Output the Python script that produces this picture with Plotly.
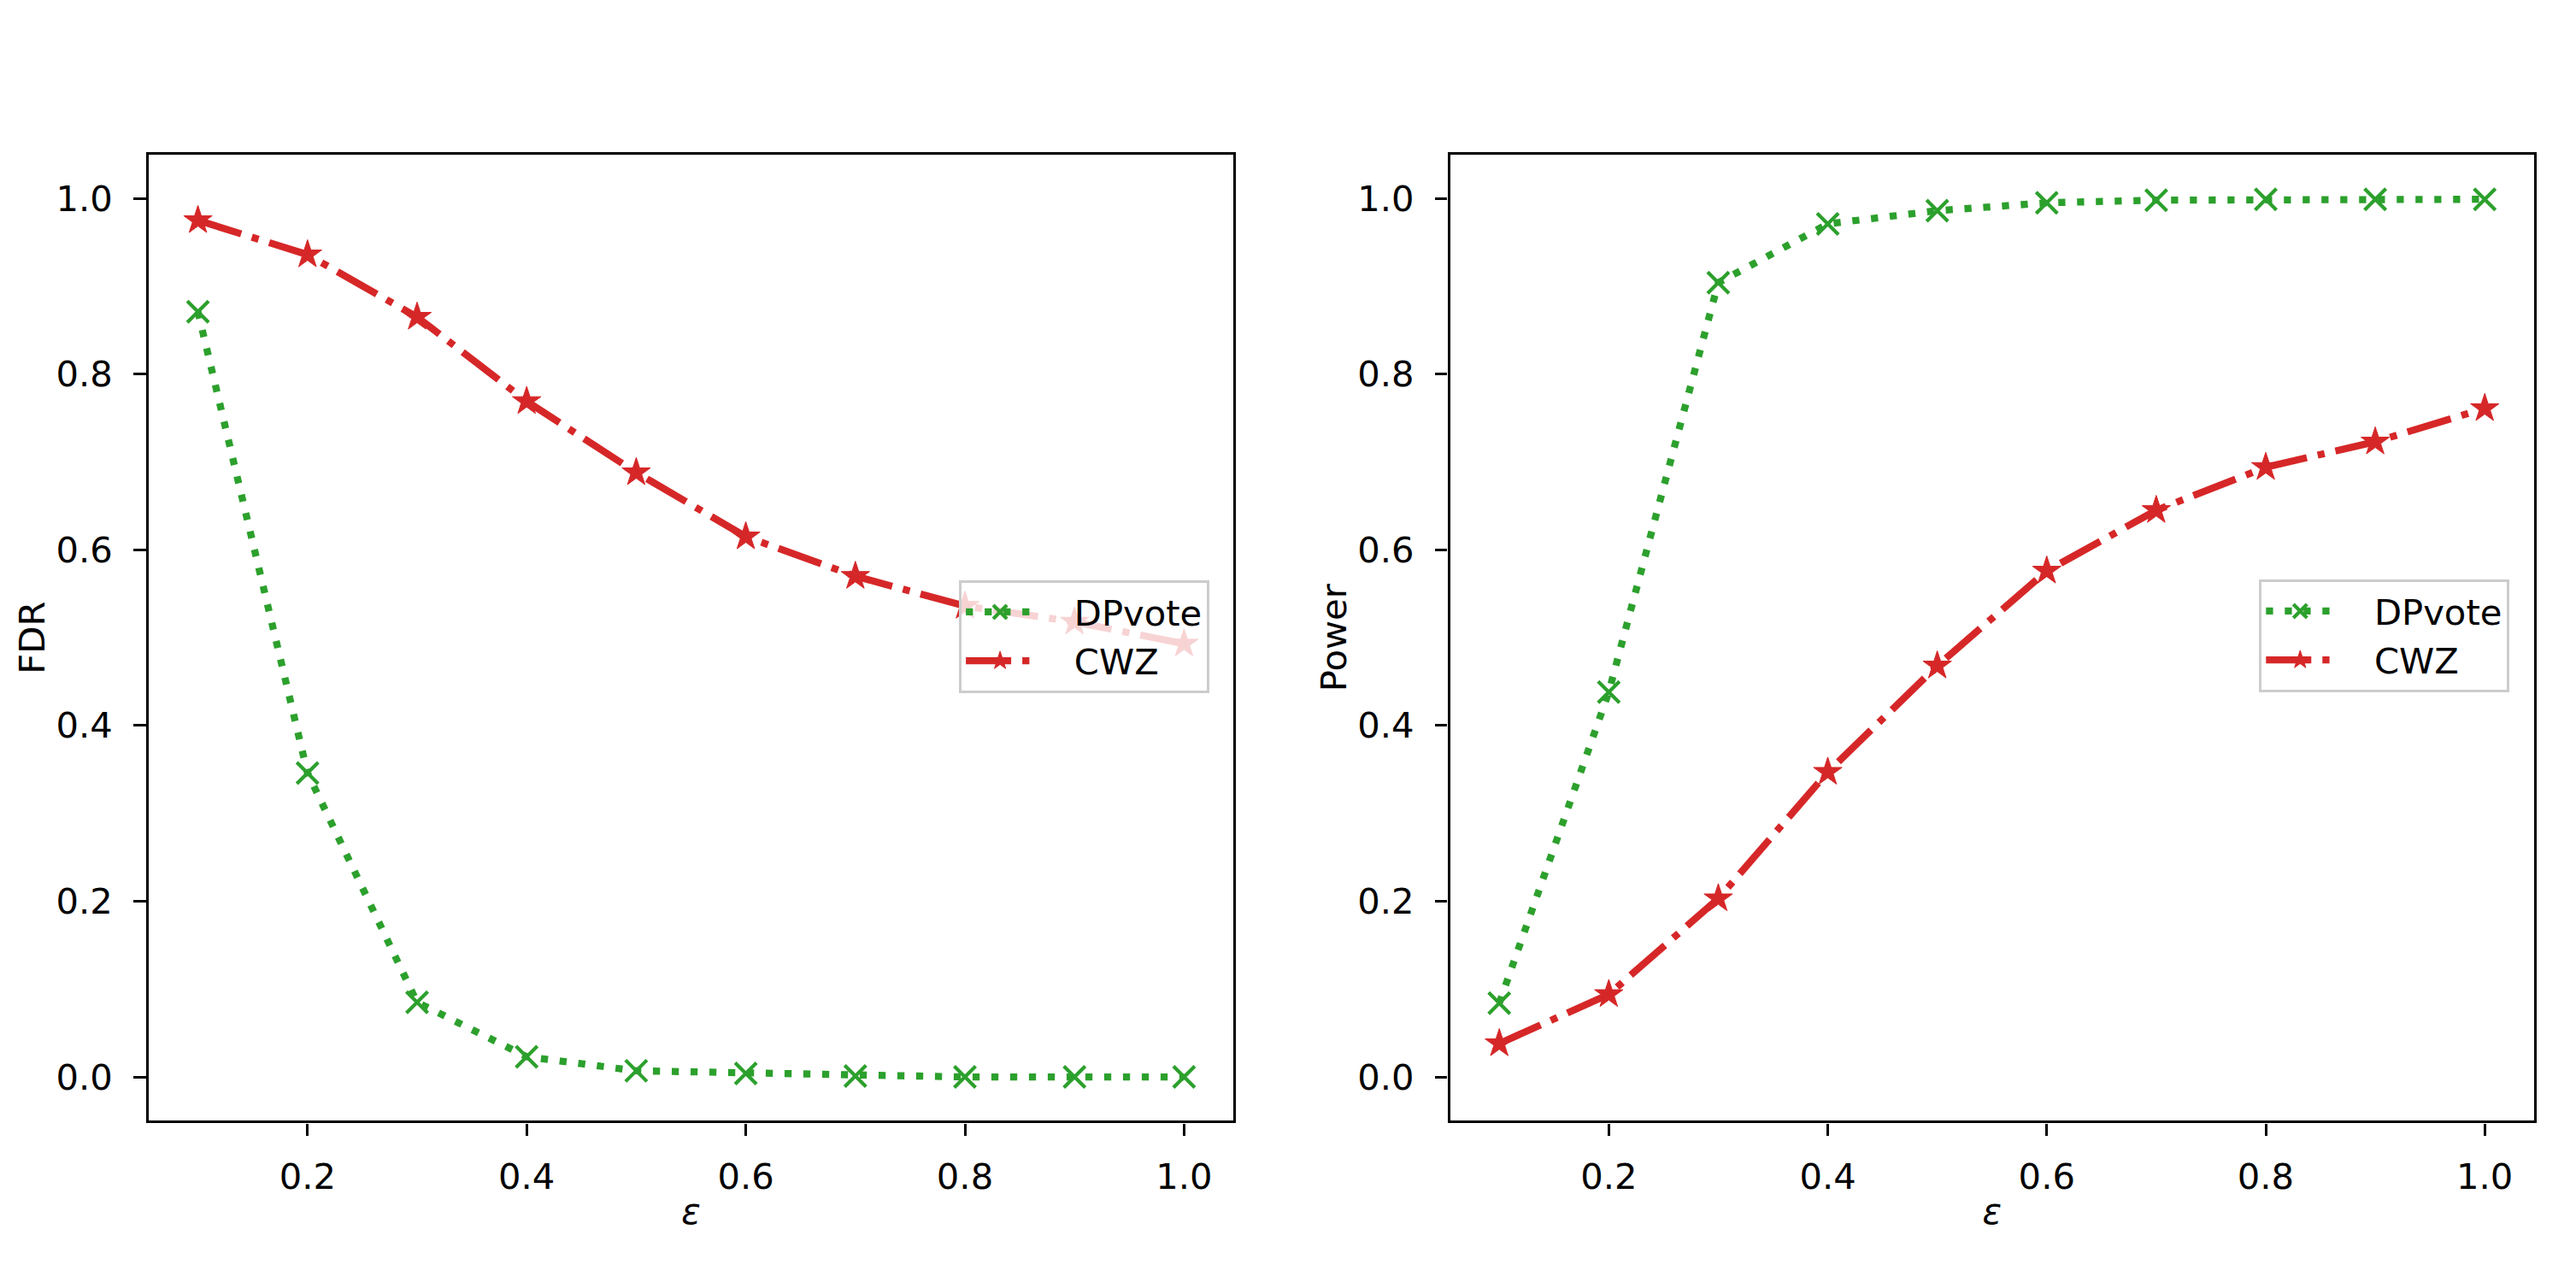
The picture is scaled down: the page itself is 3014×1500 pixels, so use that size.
import plotly.graph_objects as go

eps = [0.1, 0.2, 0.3, 0.4, 0.5, 0.6, 0.7, 0.8, 0.9, 1.0]

fdr_dpvote = [0.871, 0.346, 0.085, 0.023, 0.007, 0.004, 0.001, 0.0, 0.0, 0.0]
fdr_cwz = [0.975, 0.936, 0.865, 0.769, 0.688, 0.615, 0.570, 0.536, 0.518, 0.493]

power_dpvote = [0.084, 0.438, 0.904, 0.971, 0.986, 0.995, 0.998, 0.999, 0.999, 0.999]
power_cwz = [0.038, 0.094, 0.203, 0.347, 0.468, 0.576, 0.645, 0.694, 0.723, 0.761]

x_ticks = [0.2, 0.4, 0.6, 0.8, 1.0]
y_ticks = [0.0, 0.2, 0.4, 0.6, 0.8, 1.0]

series_names = ["DPvote", "CWZ"]

GREEN = "#2ca02c"
RED = "#d62728"
FS = 41.7
FONT = "DejaVu Sans"
PAD = "\u2003"

fig = go.Figure()


def add_pair(x_axis, y_axis, legend, dp, cw):
    fig.add_trace(go.Scatter(
        x=eps, y=dp, name=PAD + series_names[0], mode="lines+markers",
        xaxis=x_axis, yaxis=y_axis, legend=legend,
        line=dict(color=GREEN, width=8.3, dash="8.3px,13.7px"),
        marker=dict(symbol="x-thin", size=25, color=GREEN,
                    line=dict(color=GREEN, width=4.2)),
    ))
    fig.add_trace(go.Scatter(
        x=eps, y=cw, name=PAD + series_names[1], mode="lines+markers",
        xaxis=x_axis, yaxis=y_axis, legend=legend,
        line=dict(color=RED, width=8.3, dash="53px,13px,8.3px,13px"),
        marker=dict(symbol="star", size=25, color=RED,
                    line=dict(color=RED, width=1)),
    ))


add_pair("x", "y", "legend", fdr_dpvote, fdr_cwz)
add_pair("x2", "y2", "legend2", power_dpvote, power_cwz)

axis_common = dict(
    showline=True, linecolor="black", linewidth=3.3, mirror=True,
    ticks="outside", ticklen=14.6, tickwidth=3.3, tickcolor="black",
    showgrid=False, zeroline=False,
    tickfont=dict(family=FONT, size=FS, color="black"),
)

xcommon = dict(axis_common, range=[0.055, 1.045], tickvals=x_ticks,
               tickformat=".1f", ticklabelstandoff=12,
               title=dict(text="<i>ε</i>", font=dict(family=FONT, size=FS, color="black"),
                          standoff=3))
ycommon = dict(axis_common, range=[-0.05, 1.05], tickvals=y_ticks,
               tickformat=".1f", ticklabelstandoff=16)

legend_common = dict(
    bgcolor="rgba(255,255,255,0.8)", bordercolor="#cccccc", borderwidth=3.3,
    font=dict(family=FONT, size=FS, color="black"),
    xanchor="left", yanchor="top", itemwidth=80, tracegroupgap=0,
)

fig.update_layout(
    width=3014, height=1500,
    margin=dict(l=0, r=0, t=0, b=0),
    paper_bgcolor="white", plot_bgcolor="white",
    font=dict(family=FONT, size=FS, color="black"),
    xaxis=dict(xcommon, domain=[0.0577, 0.4788], anchor="y"),
    yaxis=dict(ycommon, domain=[0.1257, 0.8795], anchor="x",
               title=dict(text="FDR", font=dict(family=FONT, size=FS, color="black"), standoff=0)),
    xaxis2=dict(xcommon, domain=[0.5629, 0.9837], anchor="y2"),
    yaxis2=dict(ycommon, domain=[0.1257, 0.8795], anchor="x2",
                title=dict(text="Power", font=dict(family=FONT, size=FS, color="black"), standoff=0)),
    legend=dict(legend_common, x=0.3722, y=0.5473),
    legend2=dict(legend_common, x=0.8769, y=0.548),
    showlegend=True,
)

fig.write_html("out.html", config={"displayModeBar": False},
               post_script="document.body.style.margin='0';document.body.style.overflow='hidden';")
